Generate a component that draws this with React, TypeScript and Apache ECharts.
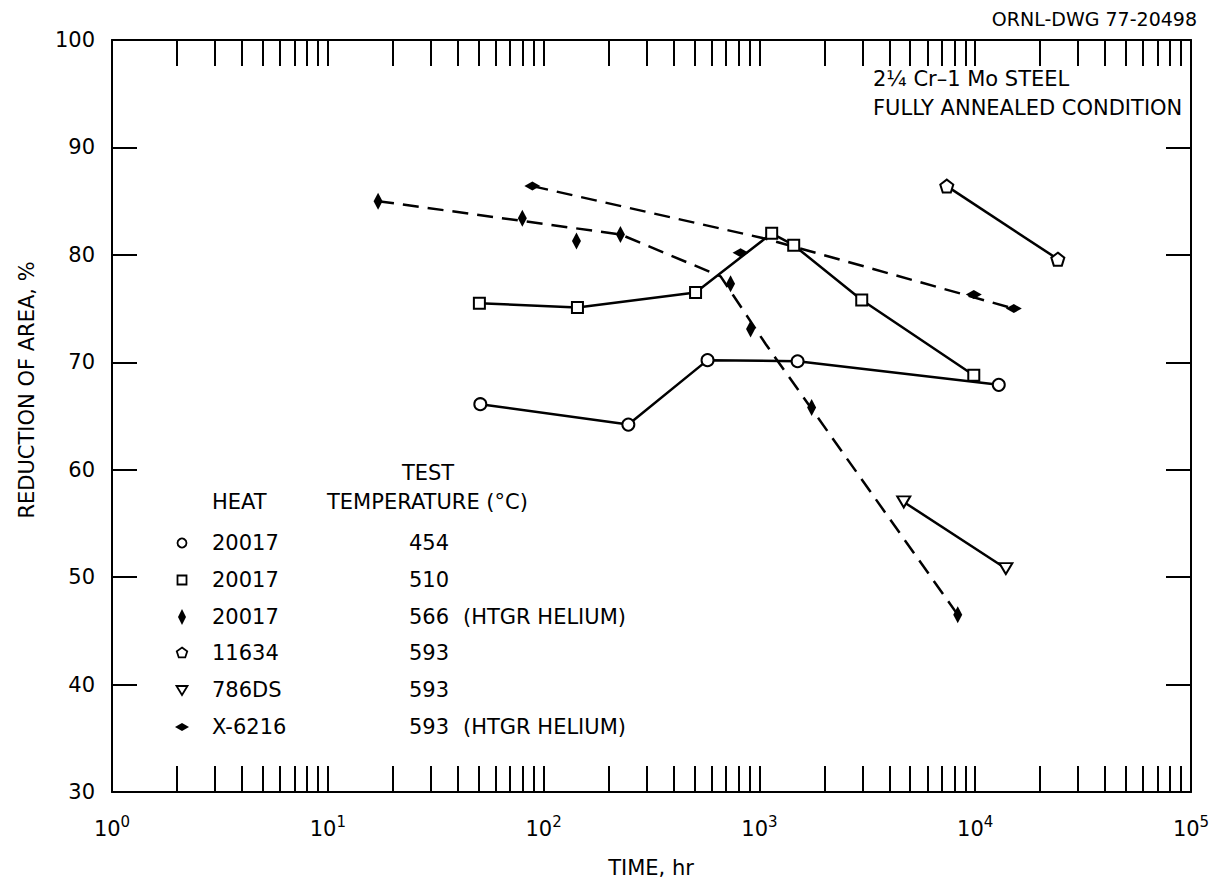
import React, { useEffect, useRef } from "react";
import * as echarts from "echarts";

// ---------- data (time in hours, reduction of area in %) ----------
const S454: [number, number][] = [[50.9, 66.1], [247, 64.2], [575, 70.2], [1503, 70.1], [12860, 67.9]];
const S510: [number, number][] = [[50.4, 75.5], [143.5, 75.1], [506, 76.5], [1140, 82.0], [1442, 80.9], [2980, 75.8], [9850, 68.8]];
const S566_POINTS: [number, number][] = [[17.1, 85.0], [79.7, 83.4], [142, 81.3], [227, 81.9], [735, 77.3], [910, 73.1], [1746, 65.8], [8300, 46.5]];
const S566_TREND: [number, number][] = [[17.1, 85.0], [227, 81.9], [661, 78.0], [1069, 71.7], [8300, 46.5]];
const S11634: [number, number][] = [[7385, 86.4], [24150, 79.6]];
const S786DS: [number, number][] = [[4665, 57.0], [13870, 50.8]];
const SX6216_POINTS: [number, number][] = [[88.7, 86.4], [818, 80.2], [9850, 76.3], [15100, 75.0]];
const SX6216_TREND: [number, number][] = [[88.7, 86.4], [1069, 81.5], [15100, 75.0]];

const X_TICKS: number[] = [];
for (let d = 1; d <= 10000; d *= 10) for (let m = 1; m <= 9; m++) if (!(d === 1 && m === 1)) X_TICKS.push(d * m);
X_TICKS.push(100000);
const X_LABELS = [1, 10, 100, 1000, 10000, 100000];

const LEGEND_HEATS = ["20017", "20017", "20017", "11634", "786DS", "X-6216"];
const LEGEND_TEMPS = ["454", "510", "566", "593", "593", "593"];
const LEGEND_NOTES = ["", "", "(HTGR HELIUM)", "", "", "(HTGR HELIUM)"];

const FONT = "DejaVu Sans";
const PENTAGON = "path://M0,-10 L9.51,-3.09 L5.88,8.09 L-5.88,8.09 L-9.51,-3.09 Z";

export default function App() {
  const ref = useRef<HTMLDivElement>(null);
  useEffect(() => {
    const chart = echarts.init(ref.current!, null, { renderer: "svg" });
    const black = "#000";
    const hollow = { color: "#fff", borderColor: black, borderWidth: 2, opacity: 1 };
    const filled = { color: black, opacity: 1 };
    const solidLine = { color: black, width: 2.5 };
    const dashLine = { color: black, width: 2.5, type: [16, 9] as any };

    const xAxisBase = {
      type: "log" as const,
      logBase: 10,
      min: 1,
      max: 100000,
      axisLine: { show: true, lineStyle: { color: black, width: 2 } },
      axisTick: { show: true, inside: true, length: 26, lineStyle: { color: black, width: 2 }, customValues: X_TICKS },
      splitLine: { show: false },
      minorTick: { show: false },
      minorSplitLine: { show: false },
    };
    const yAxisBase = {
      type: "value" as const,
      min: 30,
      max: 100,
      interval: 10,
      axisLine: { show: true, lineStyle: { color: black, width: 2 } },
      axisTick: { show: true, inside: true, length: 25, lineStyle: { color: black, width: 2 } },
      splitLine: { show: false },
    };

    const rowY = [543, 580, 617, 653, 690, 727];
    const mx = 182;
    const legendMarkers: any[] = [
      { type: "circle", shape: { cx: mx, cy: rowY[0], r: 4.5 }, style: { fill: "#fff", stroke: black, lineWidth: 1.8 } },
      { type: "rect", shape: { x: mx - 4.5, y: rowY[1] - 4.5, width: 9, height: 9 }, style: { fill: "#fff", stroke: black, lineWidth: 1.8 } },
      { type: "polygon", shape: { points: [[mx, rowY[2] - 8], [mx + 4, rowY[2]], [mx, rowY[2] + 8], [mx - 4, rowY[2]]] }, style: { fill: black } },
      { type: "polygon", shape: { points: [0, 1, 2, 3, 4].map((i) => [mx + 5.5 * Math.sin((i * 2 * Math.PI) / 5), rowY[3] - 5.5 * Math.cos((i * 2 * Math.PI) / 5)]) }, style: { fill: "#fff", stroke: black, lineWidth: 1.8 } },
      { type: "polygon", shape: { points: [[mx - 5.5, rowY[4] - 4], [mx + 5.5, rowY[4] - 4], [mx, rowY[4] + 5]] }, style: { fill: "#fff", stroke: black, lineWidth: 1.8 } },
      { type: "polygon", shape: { points: [[mx - 7, rowY[5]], [mx, rowY[5] - 4], [mx + 7, rowY[5]], [mx, rowY[5] + 4]] }, style: { fill: black } },
    ];
    const txt = (text: string, x: number, y: number, align = "left", size = 21) => ({
      type: "text",
      x,
      y,
      style: { text, fill: black, font: `${size}px "${FONT}"`, align, verticalAlign: "middle" },
    });
    const legendTexts: any[] = [];
    rowY.forEach((y, i) => {
      legendTexts.push(txt(LEGEND_HEATS[i], 212, y));
      legendTexts.push(txt(LEGEND_TEMPS[i], 409, y));
      if (LEGEND_NOTES[i]) legendTexts.push(txt(LEGEND_NOTES[i], 463, y));
    });

    chart.setOption({
      animation: false,
      backgroundColor: "#fff",
      grid: { left: 112, right: 31, top: 40, bottom: 88, containLabel: false },
      xAxis: [
        {
          ...xAxisBase,
          position: "bottom",
          axisLabel: {
            customValues: X_LABELS,
            margin: 22,
            showMinLabel: true,
            showMaxLabel: true,
            formatter: (v: number) => `{b|10}{s|${Math.round(Math.log10(v))}}`,
            rich: {
              b: { fontSize: 21, fontFamily: FONT, color: black },
              s: { fontSize: 15, fontFamily: FONT, color: black, padding: [0, 0, 14, 0] },
            },
          },
        },
        { ...xAxisBase, position: "top", axisLabel: { show: false } },
      ],
      yAxis: [
        { ...yAxisBase, position: "left", axisLabel: { color: black, fontSize: 21, fontFamily: FONT, margin: 17 } },
        { ...yAxisBase, position: "right", axisLabel: { show: false } },
      ],
      graphic: [
        txt("ORNL-DWG 77-20498", 1197, 19, "right", 19),
        txt("2¼ Cr–1 Mo STEEL", 873, 79),
        txt("FULLY ANNEALED CONDITION", 873, 108),
        { ...txt("REDUCTION OF AREA, %", 27, 390, "center"), rotation: Math.PI / 2 },
        txt("TIME, hr", 651, 868, "center"),
        txt("TEST", 428, 473, "center"),
        txt("HEAT", 212, 502),
        txt("TEMPERATURE (°C)", 327, 502),
        ...legendTexts,
        ...legendMarkers,
      ],
      series: [
        { name: "20017 454", type: "line", data: S454, symbol: "circle", symbolSize: 12, itemStyle: hollow, lineStyle: solidLine, z: 3 },
        { name: "20017 510", type: "line", data: S510, symbol: "rect", symbolSize: 11, itemStyle: hollow, lineStyle: solidLine, z: 3 },
        { name: "20017 566 trend", type: "line", data: S566_TREND, showSymbol: false, symbol: "none", lineStyle: dashLine, z: 2 },
        { name: "20017 566 (HTGR HELIUM)", type: "scatter", data: S566_POINTS, symbol: "diamond", symbolSize: [9, 17], itemStyle: filled, z: 4 },
        { name: "11634 593", type: "line", data: S11634, symbol: PENTAGON, symbolSize: 13, itemStyle: hollow, lineStyle: solidLine, z: 3 },
        { name: "786DS 593", type: "line", data: S786DS, symbol: "triangle", symbolRotate: 180, symbolSize: [13, 11], itemStyle: hollow, lineStyle: solidLine, z: 3 },
        { name: "X-6216 trend", type: "line", data: SX6216_TREND, showSymbol: false, symbol: "none", lineStyle: dashLine, z: 2 },
        { name: "X-6216 593 (HTGR HELIUM)", type: "scatter", data: SX6216_POINTS, symbol: "diamond", symbolSize: [16, 9], itemStyle: filled, z: 4 },
      ],
    } as any);
    return () => chart.dispose();
  }, []);
  return <div ref={ref} style={{ position: "fixed", left: 0, top: 0, width: 1222, height: 880, background: "#fff" }} />;
}
